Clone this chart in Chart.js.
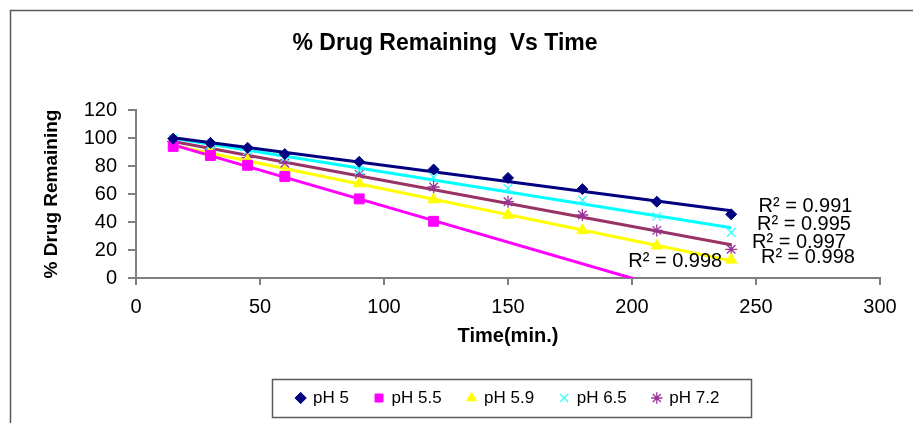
<!DOCTYPE html>
<html>
<head>
<meta charset="utf-8">
<script src="https://cdn.jsdelivr.net/npm/chart.js@4.4.1/dist/chart.umd.min.js"></script>
<style>
  html, body { margin: 0; padding: 0; background: #fff; }
  canvas { display: block; }
</style>
</head>
<body>
<canvas id="chart" width="913" height="423"></canvas>
<script>
// valori (tempo in minuti, % farmaco residuo)
const times = [15, 30, 45, 60, 90, 120, 150, 180, 210, 240];
const seriesNames = ['pH 5', 'pH 5.5', 'pH 5.9', 'pH 6.5', 'pH 7.2'];
const ph5  = [99.5, 96.5, 93, 88.5, 83, 77.5, 71.5, 63.5, 54.5, 45.5];
const ph55 = [94, 87.5, 80.5, 72.5, 56.5, 40.5, null, null, null, null];
const ph59 = [95, 90, 84, 76.5, 67.5, 56, 45, 34, 23, 13];
const ph65 = [99.5, 95, 91, 86, 77, 72, 64, 55.5, 44, 32.5];
const ph72 = [97.5, 91.5, 86, 82, 74, 65, 54.5, 45, 34, 20.5];
const r2Values = ['0.991', '0.998', '0.998', '0.995', '0.997'];

const xTicks = { min: 0, max: 300, step: 50 };
const yTicks = { min: 0, max: 120, step: 20 };

// dove stanno le etichette R² (in unità dei dati)
const r2Anchor = [[251, 51.4], [198.5, 12.1], [252, 14.3], [250.4, 37.9], [248.4, 25.7]];

const allValues = [ph5, ph55, ph59, ph65, ph72];
const markerStyle = [
  { pointStyle: 'rectRot', color: '#000080', radius: 5.5, border: 1 },
  { pointStyle: 'rect', color: '#FF00FF', radius: 7, border: 1 },
  { pointStyle: 'triangle', color: '#FFFF00', radius: 6.5, border: 1 },
  { pointStyle: 'crossRot', color: '#33FFFF', radius: 6, border: 1.3 },
  { pointStyle: 'star', color: '#993399', radius: 6, border: 1.3 },
];
const trendColors = ['#000080', '#FF00FF', '#FFFF00', '#00FFFF', '#993366'];

function pairs(vals) {
  return times.map((t, i) => ({ x: t, y: vals[i] })).filter(p => p.y !== null);
}

// retta dei minimi quadrati, come la linea di tendenza di Excel
function trend(vals) {
  const pts = pairs(vals);
  const n = pts.length;
  let sx = 0, sy = 0, sxy = 0, sxx = 0;
  pts.forEach(p => { sx += p.x; sy += p.y; sxy += p.x * p.y; sxx += p.x * p.x; });
  const b = (n * sxy - sx * sy) / (n * sxx - sx * sx);
  const a = (sy - b * sx) / n;
  const x0 = times[0], x1 = times[times.length - 1];
  return [{ x: x0, y: a + b * x0 }, { x: x1, y: a + b * x1 }];
}

const datasets = [];
allValues.forEach((vals, i) => {
  const m = markerStyle[i];
  datasets.push({
    type: 'scatter',
    label: seriesNames[i],
    data: pairs(vals),
    pointStyle: m.pointStyle,
    pointRadius: m.radius,
    pointHoverRadius: m.radius,
    backgroundColor: m.color,
    borderColor: m.color,
    borderWidth: m.border,
  });
});
allValues.forEach((vals, i) => {
  datasets.push({
    type: 'line',
    label: 'trend ' + seriesNames[i],
    data: trend(vals),
    borderColor: trendColors[i],
    borderWidth: 3,
    pointRadius: 0,
    fill: false,
  });
});

const outerBorder = {
  id: 'outerBorder',
  beforeDraw(chart) {
    const ctx = chart.ctx;
    ctx.save();
    ctx.strokeStyle = '#5a5a5a';
    ctx.lineWidth = 1.5;
    ctx.beginPath();
    ctx.moveTo(10.5, chart.height);
    ctx.lineTo(10.5, 10.5);
    ctx.lineTo(chart.width, 10.5);
    ctx.stroke();
    ctx.restore();
  }
};

// legenda centrata sotto l'area del grafico, con riquadro
const legendBox = {
  id: 'legendBox',
  afterLayout(chart) {
    const lg = chart.legend;
    const dx = (chart.chartArea.left + chart.chartArea.right) / 2 - (lg.left + lg.right) / 2;
    lg.left += dx;
    lg.right += dx;
  },
  afterDraw(chart) {
    const hb = chart.legend.legendHitBoxes;
    if (!hb || !hb.length) return;
    const first = hb[0], last = hb[hb.length - 1];
    const cy = first.top + first.height / 2;
    const ctx = chart.ctx;
    ctx.save();
    ctx.strokeStyle = '#5a5a5a';
    ctx.lineWidth = 1.5;
    const l = Math.round(first.left - 25) + 0.5;
    const r = Math.round(last.left + last.width + 32) + 0.5;
    ctx.strokeRect(l, Math.round(cy - 19) + 0.5, r - l, 38);
    ctx.restore();
  }
};

const r2Labels = {
  id: 'r2Labels',
  afterDatasetsDraw(chart) {
    const { ctx, scales } = chart;
    ctx.save();
    ctx.font = '20px "Liberation Sans", Arial, sans-serif';
    ctx.fillStyle = '#000';
    ctx.textAlign = 'left';
    ctx.textBaseline = 'middle';
    r2Values.forEach((v, i) => {
      const x = scales.x.getPixelForValue(r2Anchor[i][0]);
      const y = scales.y.getPixelForValue(r2Anchor[i][1]);
      ctx.fillText('R\u00B2 = ' + v, x, y);
    });
    ctx.restore();
  }
};

Chart.defaults.font.family = '"Liberation Sans", Arial, sans-serif';
Chart.defaults.color = '#000';

new Chart(document.getElementById('chart'), {
  type: 'scatter',
  data: { datasets },
  options: {
    responsive: false,
    animation: false,
    layout: { padding: { left: 10, right: 33, top: 10, bottom: 6.5 } },
    scales: {
      x: {
        type: 'linear',
        min: xTicks.min,
        max: xTicks.max,
        ticks: { stepSize: xTicks.step, font: { size: 20 }, padding: 10, maxRotation: 0 },
        grid: { drawOnChartArea: false, tickLength: 7, color: '#808080', lineWidth: 2 },
        border: { color: '#808080', width: 2 },
        title: { display: true, text: 'Time(min.)', font: { size: 20, weight: 'bold' }, padding: { top: 0, bottom: 15.5 } },
        afterFit(scale) { scale.height = 85.5; },
      },
      y: {
        min: yTicks.min,
        max: yTicks.max,
        ticks: { stepSize: yTicks.step, font: { size: 20 }, padding: 11 },
        grid: { drawOnChartArea: false, tickLength: 8, color: '#808080', lineWidth: 2 },
        border: { color: '#808080', width: 2 },
        title: { display: true, text: '% Drug Remaining', font: { size: 19, weight: 'bold' }, padding: { top: 30, bottom: 0 } },
        afterFit(scale) { scale.width = 126; },
      },
    },
    plugins: {
      title: {
        display: true,
        text: '% Drug Remaining  Vs Time',
        font: { size: 23, weight: 'bold' },
        padding: { top: 20, bottom: 52.4 },
      },
      legend: {
        display: true,
        position: 'bottom',
        labels: {
          usePointStyle: true,
          boxWidth: 8,
          boxHeight: 8,
          padding: 26,
          font: { size: 17 },
          filter: (item) => item.datasetIndex < seriesNames.length,
        },
      },
      tooltip: { enabled: false },
    },
  },
  plugins: [outerBorder, legendBox, r2Labels],
});
</script>
</body>
</html>
